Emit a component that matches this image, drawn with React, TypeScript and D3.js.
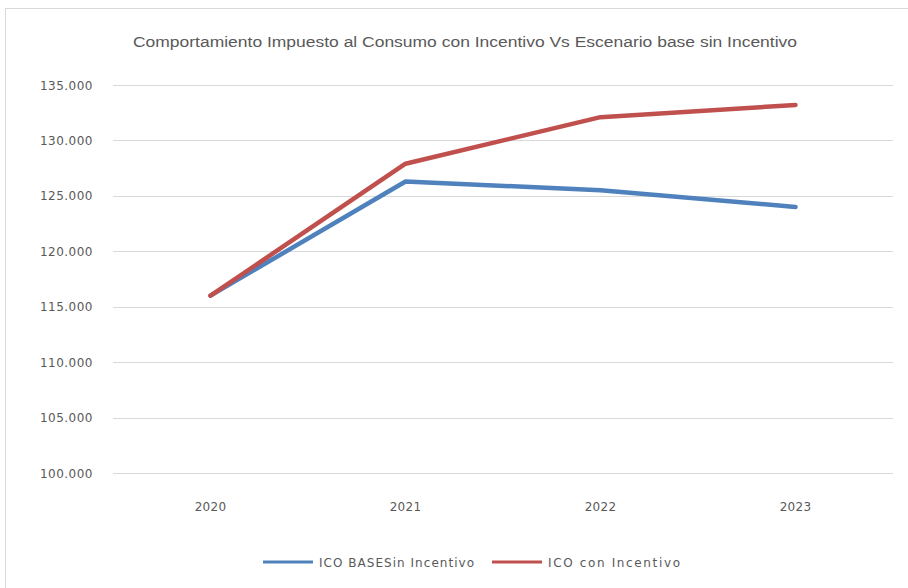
import React, { useEffect, useRef } from 'react';
import * as d3 from 'd3';

const years = ['2020', '2021', '2022', '2023'];
const icoBase = [116000, 126300, 125500, 124000];
const icoIncentivo = [116000, 127900, 132100, 133200];
const yTicks = [100000, 105000, 110000, 115000, 120000, 125000, 130000, 135000];

const seriesNames = ['ICO BASESin Incentivo', 'ICO con Incentivo'];
const seriesColors = ['#4f81bd', '#c0504d'];

const fmt = (v: number) => d3.format(',.3f')(v / 1000).replace(',', '.');

export default function App() {
  const svgRef = useRef<SVGSVGElement>(null);

  useEffect(() => {
    if (!svgRef.current) return;
    const W = 908;
    const H = 588;
    const left = 113;
    const right = 893;
    const top = 85;
    const bottom = 473;

    const svg = d3.select(svgRef.current);
    svg.selectAll('*').remove();

    // chart area border
    svg.append('rect')
      .attr('x', 5.5)
      .attr('y', 8.5)
      .attr('width', W)
      .attr('height', H)
      .attr('fill', '#fff')
      .attr('stroke', '#d9d9d9')
      .attr('stroke-width', 1);

    svg.append('text')
      .attr('x', 465)
      .attr('y', 47)
      .attr('text-anchor', 'middle')
      .attr('font-family', '"Liberation Sans Narrow", "Liberation Sans", sans-serif')
      .attr('font-size', 14)
      .attr('fill', '#595959')
      .attr('textLength', 664)
      .attr('lengthAdjust', 'spacingAndGlyphs')
      .text('Comportamiento Impuesto al Consumo con Incentivo Vs Escenario base sin Incentivo');

    const x = d3.scaleBand().domain(years).range([left, right]);
    const y = d3.scaleLinear().domain([100000, 135000]).range([bottom, top]);

    // grid lines
    svg.append('g')
      .selectAll('line')
      .data(yTicks)
      .enter()
      .append('line')
      .attr('x1', left)
      .attr('x2', right)
      .attr('y1', (d) => Math.round(y(d)) + 0.5)
      .attr('y2', (d) => Math.round(y(d)) + 0.5)
      .attr('stroke', '#d9d9d9')
      .attr('stroke-width', 1);

    // y labels
    svg.append('g')
      .selectAll('text')
      .data(yTicks)
      .enter()
      .append('text')
      .attr('x', 93)
      .attr('y', (d) => y(d) + 4.5)
      .attr('text-anchor', 'end')
      .attr('font-family', '"DejaVu Sans", sans-serif')
      .attr('font-size', 12)
      .attr('letter-spacing', 0.5)
      .attr('fill', '#595959')
      .text((d) => fmt(d));

    // x labels
    svg.append('g')
      .selectAll('text')
      .data(years)
      .enter()
      .append('text')
      .attr('x', (d) => (x(d) || 0) + x.bandwidth() / 2)
      .attr('y', 511)
      .attr('text-anchor', 'middle')
      .attr('font-family', '"DejaVu Sans", sans-serif')
      .attr('font-size', 12)
      .attr('letter-spacing', 0.3)
      .attr('fill', '#595959')
      .text((d) => d);

    const line = d3.line<number>()
      .x((_d, i) => (x(years[i]) || 0) + x.bandwidth() / 2)
      .y((d) => y(d));

    [icoBase, icoIncentivo].forEach((vals, i) => {
      svg.append('path')
        .datum(vals)
        .attr('d', line)
        .attr('fill', 'none')
        .attr('stroke', seriesColors[i])
        .attr('stroke-width', 4.5)
        .attr('stroke-linejoin', 'round')
        .attr('stroke-linecap', 'round');
    });

    // legend
    const legendX = [263, 492];
    const legendW = [155, 132];
    seriesNames.forEach((name, i) => {
      const g = svg.append('g').attr('transform', `translate(${legendX[i]},562)`);
      g.append('line')
        .attr('x1', 0)
        .attr('x2', 50)
        .attr('stroke', seriesColors[i])
        .attr('stroke-width', 3);
      g.append('text')
        .attr('x', 56)
        .attr('y', 4.5)
        .attr('font-family', '"DejaVu Sans", sans-serif')
        .attr('font-size', 12)
        .attr('textLength', legendW[i])
        .attr('lengthAdjust', 'spacing')
        .attr('fill', '#595959')
        .text(name);
    });
  }, []);

  return (
    <svg
      ref={svgRef}
      width={908}
      height={588}
      style={{ position: 'absolute', left: 0, top: 0, background: '#fff' }}
    />
  );
}
